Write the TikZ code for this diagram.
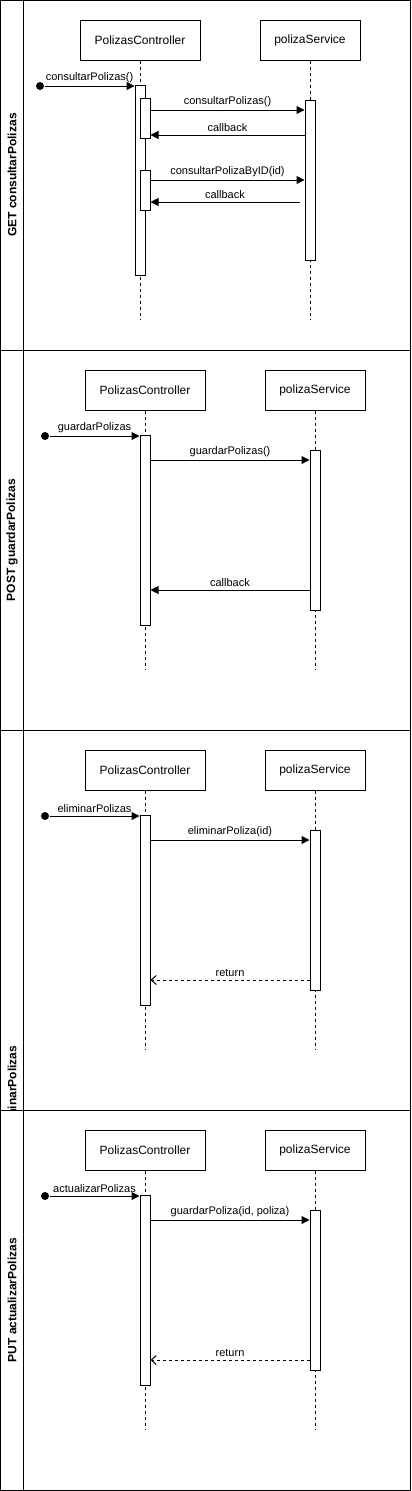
\documentclass[tikz,border=0pt]{standalone}
\usepackage{fontspec}
\setmainfont{Liberation Sans}
\usetikzlibrary{arrows.meta,positioning}
\begin{document}
\begin{tikzpicture}[x=1pt,y=-1pt,line width=1pt,
  font=\fontsize{11}{13}\selectfont,
  obj/.style={draw,fill=white,minimum height=40pt,inner sep=0pt,font=\fontsize{12}{14}\selectfont},
  act/.style={draw,fill=white,minimum width=10pt,inner sep=0pt},
  life/.style={dash pattern=on 3pt off 3pt},
  start/.style={circle,fill,inner sep=0pt,minimum size=8pt},
  msg/.style={-{Triangle[length=8pt,width=8pt]}},
  ret/.style={dash pattern=on 3pt off 3pt,-{Straight Barb[length=5pt,width=9pt]}},
  lane/.style={rotate=90,font=\bfseries\fontsize{12}{14}\selectfont},
  lbl/.style={midway,above,inner sep=3pt}]
\useasboundingbox (0,0) rectangle (412,1491);
\draw (0.5,0.5) rectangle (410.5,1490.5) (23,0.5) -- (23,1490.5);
\foreach \y in {350,730,1110} \draw (0.5,\y) -- (410.5,\y);

% GET
\node[obj,minimum width=120pt] (pc1) at (140,40) {PolizasController};
\node[obj,minimum width=100pt] (ps1) at (310,40) {polizaService};
\coordinate (pce1) at (140,320);
\coordinate (pse1) at (310,320);
\draw[life] (pc1) -- (pce1);
\draw[life] (ps1) -- (pse1);
\node[act,minimum height=190pt] (ac1) at (140,180) {};
\node[act,minimum height=40pt] (ac1a) at (145,118) {};
\node[act,minimum height=40pt] (ac1b) at (145,190) {};
\node[act,minimum height=160pt] (as1) at (310,180) {};
\node[start] (st1) at (40,86) {};
\draw[msg] (st1) -- (ac1.west |- st1) node[lbl]{consultarPolizas()};
\draw[msg] (ac1a.east |- 0,110) -- (as1.west |- 0,110) node[lbl]{consultarPolizas()};
\draw[msg] (as1.west |- 0,135) -- (ac1a.east |- 0,135) node[lbl]{callback};
\draw[msg] (ac1b.east |- 0,180) -- (as1.west |- 0,180) node[lbl]{consultarPolizaByID(id)};
\draw[msg] ([xshift=-5pt]as1.west |- 0,202) -- (ac1b.east |- 0,202) node[lbl]{callback};
\node[lane] (ln1) at (12,175) {GET consultarPolizas};

% POST, DELETE, PUT
\foreach \i/\o/\ini/\call/\rt/\ry/\back/\lanetxt/\la/\ly in {
  2/350/guardarPolizas/guardarPolizas()/msg/240/callback/POST guardarPolizas/center/190,
  3/730/eliminarPolizas/eliminarPoliza(id)/ret/250/return/eliminarPolizas/east/312,
  4/1110/actualizarPolizas/{guardarPoliza(id, poliza)}/ret/250/return/PUT actualizarPolizas/center/190}{
\begin{scope}[shift={(0,\o)}]
\node[obj,minimum width=120pt] (pc\i) at (145,40) {PolizasController};
\node[obj,minimum width=100pt] (ps\i) at (315,40) {polizaService};
\coordinate (pce\i) at (145,320);
\coordinate (pse\i) at (315,320);
\draw[life] (pc\i) -- (pce\i);
\draw[life] (ps\i) -- (pse\i);
\node[act,minimum height=190pt] (ac\i) at (145,180) {};
\node[act,minimum height=160pt] (as\i) at (315,180) {};
\node[start] (st\i) at (45,86) {};
\draw[msg] (st\i) -- (ac\i.west |- st\i) node[lbl]{\ini};
\draw[msg] (ac\i.east |- 0,110) -- (as\i.west |- 0,110) node[lbl]{\call};
\draw[\rt] (as\i.west |- 0,\ry) -- (ac\i.east |- 0,\ry) node[lbl]{\back};
\begin{scope}
\clip (0,0) rectangle (23,380);
\node[lane,anchor=\la] (ln\i) at (12,\ly) {\lanetxt};
\end{scope}
\end{scope}}
\end{tikzpicture}
\end{document}
